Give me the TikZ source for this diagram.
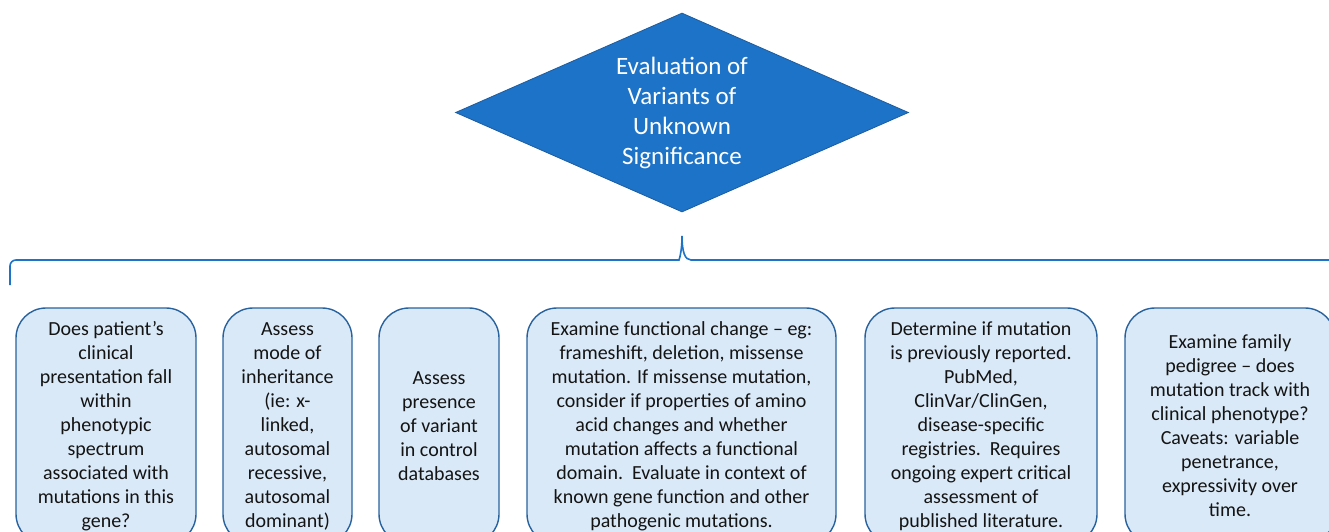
\documentclass[tikz,border=0pt]{standalone}
\usepackage{fontspec}
\setmainfont{Carlito}
\usetikzlibrary{shapes.geometric}

\definecolor{vusblue}{RGB}{28,115,200}
\definecolor{vusedge}{RGB}{30,92,160}
\definecolor{boxfill}{RGB}{218,233,247}
\definecolor{boxedge}{RGB}{40,98,158}
\definecolor{boxtext}{RGB}{20,20,20}

\begin{document}
\begin{tikzpicture}[x=1pt,y=-1pt,
   decision/.style={diamond,aspect=2.28,fill=vusblue,draw=vusedge,line width=0.8pt,text=white,align=center,inner sep=0pt,minimum width=453pt,minimum height=199pt,font=\fontsize{25}{30}\selectfont},
   stepbox/.style={rectangle,rounded corners=30pt,fill=boxfill,draw=boxedge,line width=1.4pt,text=boxtext,align=center,inner sep=0pt,minimum height=236pt,font=\fontsize{20}{24}\selectfont},
   bracket/.style={draw=vusblue,line width=1.6pt}]
      \useasboundingbox (0,0) rectangle (1329,531);
      \clip (0,0) rectangle (1329,531);

      % top level question
      \node[decision] (vus) at (682,112.5) {Evaluation of\\Variants of\\Unknown\\Significance};

      % brace under the question
      \coordinate (bracel) at (10,285);
      \coordinate (bracer) at (1354,285);
      \coordinate (bracetip) at (682,236);
      \draw[bracket] (bracel) [rounded corners=6pt] |- (673,260) [sharp corners]
            .. controls (679,260) and (682,252) .. (bracetip)
            .. controls (682,252) and (685,260) .. (691,260) [rounded corners=6pt] -| (bracer);

      % individual evaluation steps
      \node[stepbox,minimum width=180pt] (pheno) at (106,426) {Does patient’s\\clinical\\presentation fall\\within\\phenotypic\\spectrum\\associated with\\mutations in this\\gene?};
      \node[stepbox,minimum width=129pt] (inherit) at (287.5,426) {Assess\\mode of\\inheritance\\(ie: x-\\linked,\\autosomal\\recessive,\\autosomal\\dominant)};
      \node[stepbox,minimum width=120pt] (control) at (439,426) {Assess\\presence\\of variant\\in control\\databases};
      \node[stepbox,minimum width=309pt] (function) at (681.5,426) {Examine functional change – eg:\\frameshift, deletion, missense\\mutation. If missense mutation,\\consider if properties of amino\\acid changes and whether\\mutation affects a functional\\domain.\ \ Evaluate in context of\\known gene function and other\\pathogenic mutations.};
      \node[stepbox,minimum width=232pt] (reported) at (981,426) {Determine if mutation\\is previously reported.\\PubMed,\\ClinVar/ClinGen,\\disease-specific\\registries.\ \ Requires\\ongoing expert critical\\assessment of\\published literature.};
      \node[stepbox,minimum width=210pt] (pedigree) at (1230,426) {Examine family\\pedigree – does\\mutation track with\\clinical phenotype?\\Caveats: variable\\penetrance,\\expressivity over\\time.};

   \end{tikzpicture}
\end{document}
